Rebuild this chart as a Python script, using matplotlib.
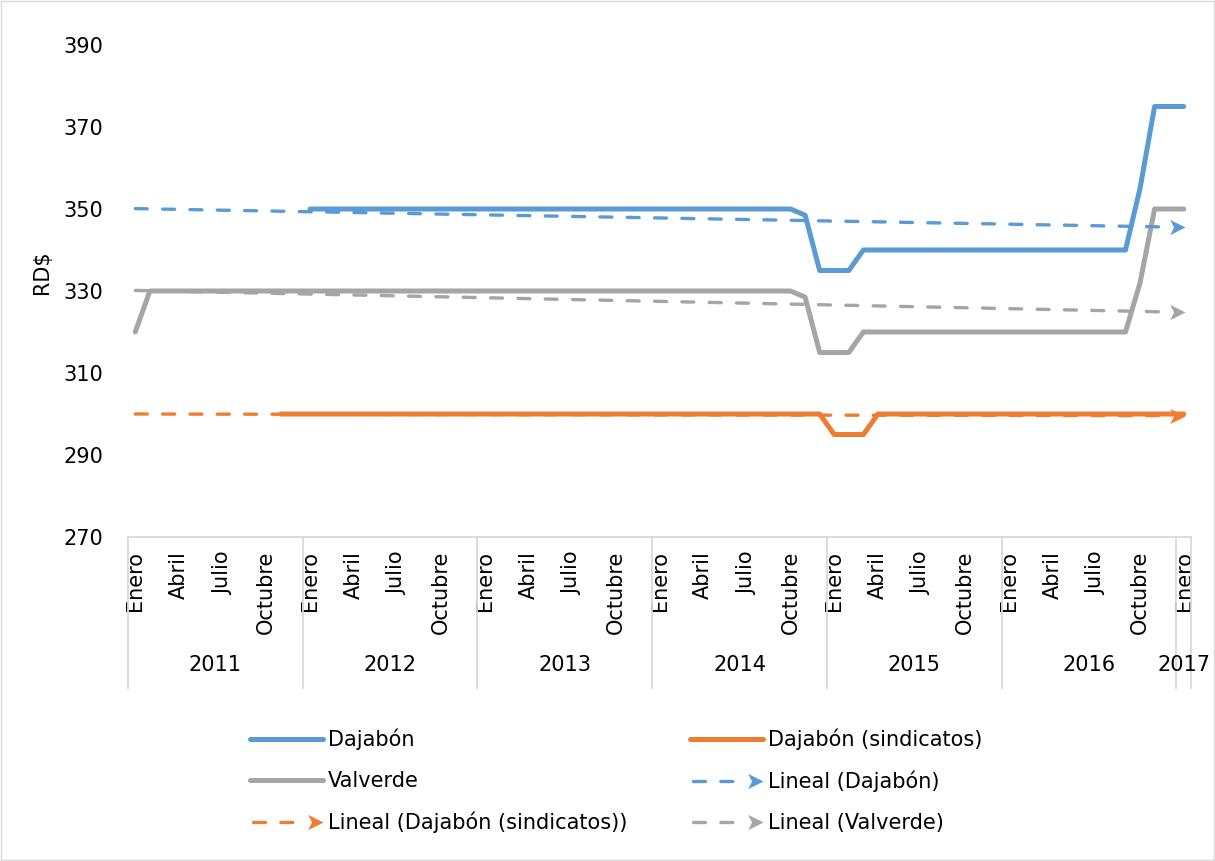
import matplotlib.pyplot as plt
import numpy as np
from matplotlib.lines import Line2D
from matplotlib.path import Path
from matplotlib.patches import Rectangle
from matplotlib.legend_handler import HandlerBase

nan = np.nan

# valores mensuales, enero 2011 .. enero 2017 (73 meses)
dajabon = [nan, nan, nan, nan, nan, nan, nan, nan, nan, nan, nan, nan,          # 2011
           350, 350, 350, 350, 350, 350, 350, 350, 350, 350, 350, 350,          # 2012
           350, 350, 350, 350, 350, 350, 350, 350, 350, 350, 350, 350,          # 2013
           350, 350, 350, 350, 350, 350, 350, 350, 350, 350, 348.5, 335,        # 2014
           335, 335, 340, 340, 340, 340, 340, 340, 340, 340, 340, 340,          # 2015
           340, 340, 340, 340, 340, 340, 340, 340, 340, 355, 375, 375,          # 2016
           375]                                                                 # 2017
sindicatos = [nan, nan, nan, nan, nan, nan, nan, nan, nan, nan, 300, 300,
              300, 300, 300, 300, 300, 300, 300, 300, 300, 300, 300, 300,
              300, 300, 300, 300, 300, 300, 300, 300, 300, 300, 300, 300,
              300, 300, 300, 300, 300, 300, 300, 300, 300, 300, 300, 300,
              295, 295, 295, 300, 300, 300, 300, 300, 300, 300, 300, 300,
              300, 300, 300, 300, 300, 300, 300, 300, 300, 300, 300, 300,
              300]
valverde = [320, 330, 330, 330, 330, 330, 330, 330, 330, 330, 330, 330,
            330, 330, 330, 330, 330, 330, 330, 330, 330, 330, 330, 330,
            330, 330, 330, 330, 330, 330, 330, 330, 330, 330, 330, 330,
            330, 330, 330, 330, 330, 330, 330, 330, 330, 330, 328.5, 315,
            315, 315, 320, 320, 320, 320, 320, 320, 320, 320, 320, 320,
            320, 320, 320, 320, 320, 320, 320, 320, 320, 332, 350, 350,
            350]

years = ['2011', '2012', '2013', '2014', '2015', '2016', '2017']
month_names = ['Enero', 'Abril', 'Julio', 'Octubre']

c_blue = '#5B9BD5'
c_orange = '#ED7D31'
c_gray = '#A5A5A5'
FS = 15
DASH = (3.6, 4.6)

# punta de flecha tipo "stealth", con la punta en el origen
arrow_path = Path([(0, 0), (-2, 1), (-1.5, 0), (-2, -1), (0, 0)],
                  [Path.MOVETO, Path.LINETO, Path.LINETO, Path.LINETO, Path.CLOSEPOLY])

fig = plt.figure(figsize=(12.15, 8.61), dpi=100)
ax = fig.add_axes([128 / 1215, 1 - 537 / 861, (1191 - 128) / 1215, (537 - 45) / 861])

x = np.arange(len(valverde))
series = [(dajabon, c_blue, 'Dajabón'),
          (sindicatos, c_orange, 'Dajabón (sindicatos)'),
          (valverde, c_gray, 'Valverde')]

for vals, col, name in series:
    ax.plot(x, vals, color=col, lw=3.6, solid_capstyle='round', solid_joinstyle='round', zorder=3)

# lineas de tendencia (lineal), como en Excel
for vals, col, name in series:
    v = np.array(vals, dtype=float)
    ok = ~np.isnan(v)
    m, b = np.polyfit(x[ok], v[ok], 1)
    xe = np.array([0, 71.3])
    ax.plot(xe, m * xe + b, color=col, lw=2.4, dashes=DASH,
            dash_capstyle='round', zorder=4)
    ax.plot([72.1], [m * 72 + b], marker=arrow_path, markersize=22, color=col,
            markerfacecolor=col, markeredgewidth=0, linestyle='none', zorder=4, clip_on=False)

ax.set_xlim(-0.5, 72.5)
ax.set_ylim(270, 390)
ax.set_yticks(range(270, 391, 20))
ax.tick_params(axis='y', length=0, pad=18, labelsize=FS)
for s in ['top', 'right', 'left']:
    ax.spines[s].set_visible(False)
ax.spines['bottom'].set_color('#d9d9d9')
ax.spines['bottom'].set_linewidth(1.3)

tick_pos = []
tick_lab = []
for yi in range(6):
    for k, mn in enumerate(month_names):
        tick_pos.append(12 * yi + 3 * k)
        tick_lab.append(mn)
tick_pos.append(72)
tick_lab.append('Enero')
ax.set_xticks(tick_pos)
ax.set_xticklabels(tick_lab, rotation=90)
ax.tick_params(axis='x', length=0, pad=10, labelsize=FS)

tr = ax.get_xaxis_transform()
ax_h = 537 - 45
for bnd in [-0.5, 11.5, 23.5, 35.5, 47.5, 59.5, 71.5, 72.5]:
    ax.plot([bnd, bnd], [0, -(688 - 537) / ax_h], transform=tr, clip_on=False,
            color='#d9d9d9', lw=1.3)
for i, yr in enumerate(years):
    cx = 12 * i + 5.5 if i < 6 else 72
    ax.text(cx, -(665 - 537) / ax_h, yr, transform=tr, ha='center', va='center', fontsize=FS)

fig.text(42 / 1215, 1 - 272 / 861, 'RD$', rotation=90, ha='center', va='center', fontsize=FS)


class ArrowHandler(HandlerBase):
    def create_artists(self, legend, orig_handle, xdescent, ydescent, width, height,
                       fontsize, trans):
        col = orig_handle.get_color()
        y = height / 2 - ydescent
        x0 = -xdescent
        x1 = width - xdescent
        ln = Line2D([x0 + 2, x1 - 12], [y, y], color=col, lw=2.4, dashes=DASH,
                    dash_capstyle='round')
        hd = Line2D([x1], [y], marker=arrow_path, markersize=22, color=col,
                    markerfacecolor=col, markeredgewidth=0, linestyle='none')
        ln.set_transform(trans)
        hd.set_transform(trans)
        return [ln, hd]


def solid(col):
    return Line2D([], [], color=col, lw=3.6, solid_capstyle='round')


blue_tr = Line2D([], [], color=c_blue)
orange_tr = Line2D([], [], color=c_orange)
gray_tr = Line2D([], [], color=c_gray)
hmap = {blue_tr: ArrowHandler(), orange_tr: ArrowHandler(), gray_tr: ArrowHandler()}

left_h = [solid(c_blue), solid(c_gray), orange_tr]
left_l = ['Dajabón', 'Valverde', 'Lineal (Dajabón (sindicatos))']
right_h = [solid(c_orange), blue_tr, gray_tr]
right_l = ['Dajabón (sindicatos)', 'Lineal (Dajabón)', 'Lineal (Valverde)']

for xa, hs, ls in [(250, left_h, left_l), (690, right_h, right_l)]:
    fig.legend(hs, ls, loc='upper left', bbox_to_anchor=(xa / 1215, 1 - 729 / 861),
               frameon=False, fontsize=FS, handlelength=3.5, handletextpad=0.25,
               labelspacing=0.98, borderpad=0, borderaxespad=0, handler_map=hmap)

fig.patches.append(Rectangle((0.0008, 0.0012), 0.9984, 0.9976, transform=fig.transFigure,
                             fill=False, ec='#d9d9d9', lw=1))

fig.savefig('out.png', dpi=100)
